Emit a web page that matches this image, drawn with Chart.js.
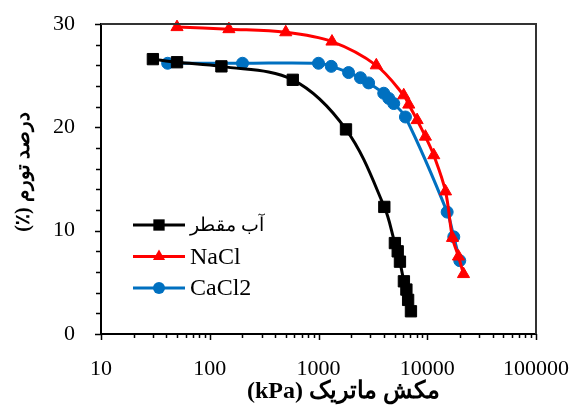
<!DOCTYPE html>
<html>
<head>
<meta charset="utf-8">
<script src="https://cdn.jsdelivr.net/npm/chart.js@4"></script>
<style>
  body { margin: 0; background: #fff; }
</style>
</head>
<body>
<canvas id="chart" width="572" height="405"></canvas>
<script>
const serif = '"Liberation Serif", "Times New Roman", "DejaVu Serif", serif';

const xTicks = [10, 100, 1000, 10000, 100000];
const yMinorStep = 2;

const seriesLabels = ['آب مقطر', 'NaCl', 'CaCl2'];
const xTitle = 'مکش ماتریک (kPa)';
const yTitle = 'درصد تورم (٪)';

// distilled water
const waterSuction = [30, 50, 128, 580, 1790, 4030, 5040, 5350, 5610, 6100, 6430, 6670, 7080];
const waterSwell = [26.6, 26.3, 25.9, 24.6, 19.8, 12.3, 8.8, 8.0, 7.0, 5.1, 4.3, 3.3, 2.2];

const naclSuction = [50, 150, 500, 1330, 3400, 6080, 6760, 8070, 9620, 11480, 14720, 17070, 19370, 21550];
const naclSwell = [29.7, 29.5, 29.2, 28.3, 26.0, 23.1, 22.2, 20.7, 19.1, 17.3, 13.8, 9.3, 7.5, 5.8];

const caclSuction = [41, 200, 1000, 1310, 1890, 2430, 2890, 3980, 4430, 4920, 6300, 15240, 17540, 19900];
const caclSwell = [26.2, 26.2, 26.2, 25.9, 25.3, 24.8, 24.3, 23.3, 22.8, 22.3, 21.0, 11.8, 9.4, 7.1];

const toPoints = (xs, ys) => xs.map((x, i) => ({ x, y: ys[i] }));
const isArabic = s => /[\u0600-\u06FF]/.test(s);

function series(label, xs, ys, color, style, radius) {
  return {
    label,
    data: toPoints(xs, ys),
    borderColor: color,
    backgroundColor: color,
    borderWidth: 3,
    pointStyle: style,
    pointRadius: radius,
    pointBorderWidth: 1,
    tension: 0.35,
    clip: false
  };
}

function marker(ctx, style, x, y, r) {
  ctx.beginPath();
  if (style === 'rect') {
    const s = Math.SQRT1_2 * r;
    ctx.rect(x - s, y - s, 2 * s, 2 * s);
  } else if (style === 'triangle') {
    ctx.moveTo(x, y - r);
    ctx.lineTo(x + r * Math.sin(Math.PI / 3), y + r / 2);
    ctx.lineTo(x - r * Math.sin(Math.PI / 3), y + r / 2);
    ctx.closePath();
  } else {
    ctx.arc(x, y, r, 0, Math.PI * 2);
  }
  ctx.fill();
}

// keep the plot box where it is, whatever the tick labels need
function fixBox(scale, size) {
  if (scale.isHorizontal()) scale.height = size; else scale.width = size;
  scale.paddingLeft = scale.paddingRight = scale.paddingTop = scale.paddingBottom = 0;
}

// tick marks, top/right frame, axis titles and the in-plot legend
const decorations = {
  id: 'decorations',
  afterDraw(chart) {
    const { ctx, chartArea: area, scales: { x, y } } = chart;
    ctx.save();

    ctx.strokeStyle = '#000';
    ctx.lineWidth = 1.5;
    ctx.beginPath();
    for (let d = xTicks[0]; d < xTicks[xTicks.length - 1]; d *= 10) {
      for (let m = 1; m <= 10; m++) {
        const px = Math.round(x.getPixelForValue(d * m)) + 0.5;
        const len = (m === 1 || m === 10) ? 6 : 4;
        ctx.moveTo(px, area.bottom);
        ctx.lineTo(px, area.bottom + len);
      }
    }
    for (let v = y.min; v <= y.max; v += yMinorStep) {
      const py = Math.round(y.getPixelForValue(v)) + 0.5;
      const len = v % 10 === 0 ? 6 : 5;
      ctx.moveTo(area.left, py);
      ctx.lineTo(area.left - len, py);
    }
    ctx.stroke();

    ctx.strokeStyle = '#333';
    ctx.lineWidth = 2;
    ctx.beginPath();
    ctx.moveTo(area.left, area.top);
    ctx.lineTo(area.right, area.top);
    ctx.lineTo(area.right, area.bottom);
    ctx.stroke();

    ctx.fillStyle = '#000';
    ctx.direction = 'rtl';
    ctx.textAlign = 'center';
    ctx.textBaseline = 'middle';
    ctx.font = 'bold 24px ' + serif;
    ctx.fillText(xTitle, (area.left + area.right) / 2 + 25, area.bottom + 58);

    ctx.font = 'bold 20px ' + serif;
    ctx.save();
    ctx.translate(24, (area.top + area.bottom) / 2 - 7);
    ctx.rotate(-Math.PI / 2);
    ctx.fillText(yTitle, 0, 0);
    ctx.restore();

    ctx.direction = 'ltr';
    ctx.textAlign = 'left';
    chart.data.datasets.forEach((ds, i) => {
      const rowY = area.top + 201 + i * 31.5;
      const x0 = area.left + 32;
      ctx.strokeStyle = ds.borderColor;
      ctx.fillStyle = ds.borderColor;
      ctx.lineWidth = 3;
      ctx.beginPath();
      ctx.moveTo(x0, rowY);
      ctx.lineTo(x0 + 52, rowY);
      ctx.stroke();
      marker(ctx, ds.pointStyle, x0 + 26, rowY, ds.pointRadius);
      ctx.fillStyle = '#000';
      ctx.font = (isArabic(ds.label) ? '19px ' : '24px ') + serif;
      ctx.fillText(ds.label, x0 + 57, rowY + 1);
    });

    ctx.restore();
  }
};

new Chart(document.getElementById('chart'), {
  type: 'line',
  data: {
    datasets: [
      series(seriesLabels[0], waterSuction, waterSwell, '#000000', 'rect', 8),
      series(seriesLabels[1], naclSuction, naclSwell, '#ff0000', 'triangle', 7),
      series(seriesLabels[2], caclSuction, caclSwell, '#0070c0', 'circle', 6)
    ]
  },
  options: {
    responsive: false,
    animation: false,
    layout: { padding: { left: 0, top: 24, right: 36, bottom: 0 } },
    scales: {
      x: {
        type: 'logarithmic',
        min: xTicks[0],
        max: xTicks[xTicks.length - 1],
        afterBuildTicks: scale => { scale.ticks = xTicks.map(value => ({ value })); },
        afterFit: scale => fixBox(scale, 71),
        grid: { display: false },
        border: { color: '#000', width: 2 },
        ticks: {
          color: '#000',
          padding: 14,
          maxRotation: 0,
          autoSkip: false,
          font: { family: serif, size: 22 },
          callback: value => String(value)
        }
      },
      y: {
        min: 0,
        max: 30,
        afterFit: scale => fixBox(scale, 101),
        grid: { display: false },
        border: { color: '#000', width: 2 },
        ticks: {
          stepSize: 10,
          color: '#000',
          padding: 18,
          font: { family: serif, size: 22 }
        }
      }
    },
    plugins: {
      legend: { display: false },
      tooltip: { enabled: false }
    }
  },
  plugins: [decorations]
});
</script>
</body>
</html>
